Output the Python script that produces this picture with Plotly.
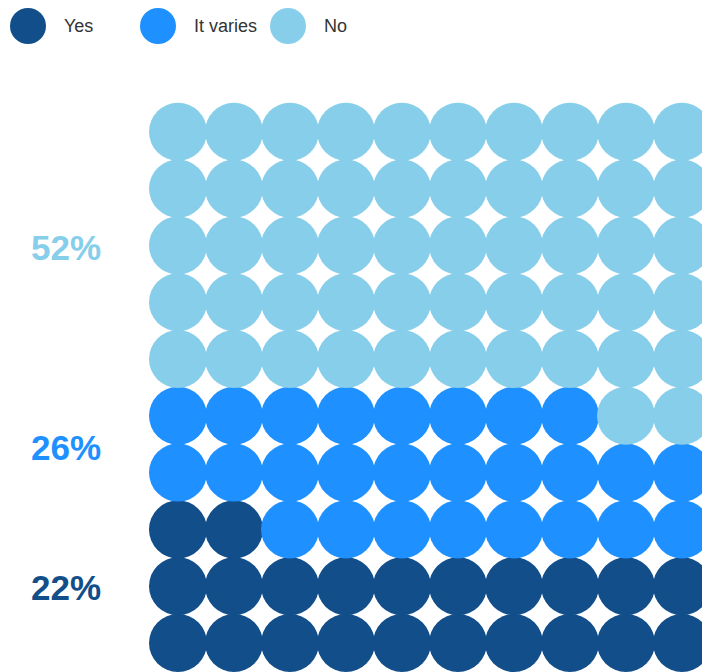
import plotly.graph_objects as go

# Survey answer shares, one dot per percent on a 10 x 10 grid
categories = ["Yes", "It varies", "No"]
counts = [22, 26, 52]
colors = ["#114e8a", "#1e90ff", "#87ceeb"]

n_cols = 10
n_rows = 10

W, H = 702, 672
# pixel geometry of the grid (centre of first column, bottom row, spacing)
x_first_px, x_step_px = 178, 56
y_bottom_px, y_step_px = 643, 56.8

x0 = -x_first_px / x_step_px
x1 = x0 + W / x_step_px
y0 = -(H - y_bottom_px) / y_step_px
y1 = y0 + H / y_step_px

fig = go.Figure()

# fill the grid row by row from the bottom-left corner
idx = 0
for cat, n, col in zip(categories, counts, colors):
    xs, ys = [], []
    for _ in range(n):
        xs.append(idx % n_cols)
        ys.append(idx // n_cols)
        idx += 1
    fig.add_trace(go.Scatter(
        x=xs, y=ys, mode="markers", name=cat,
        marker=dict(size=58, color=col, line=dict(width=0)),
        hoverinfo="name", showlegend=False,
    ))

# percentage labels to the left of the grid
label_rows = [0.97, 3.45, 6.97]
annotations = []
for n, col, ry in zip(counts, colors, label_rows):
    annotations.append(dict(
        x=-2.0, y=ry, xref="x", yref="y", text=f"{n}%",
        showarrow=False, xanchor="center", yanchor="middle",
        font=dict(family="Liberation Sans, Arial, sans-serif", size=35,
                  color=col, weight="bold"),
    ))

# legend row across the top
legend_x_px = [28, 158, 288]
legend_y_px = 26
legend_r = 18
shapes = []
for cat, col, lx in zip(categories, colors, legend_x_px):
    shapes.append(dict(
        type="circle", xref="paper", yref="paper",
        x0=(lx - legend_r) / W, x1=(lx + legend_r) / W,
        y0=1 - (legend_y_px + legend_r) / H, y1=1 - (legend_y_px - legend_r) / H,
        fillcolor=col, line=dict(width=0),
    ))
    annotations.append(dict(
        x=(lx + 34) / W, y=1 - legend_y_px / H, xref="paper", yref="paper",
        text=cat, showarrow=False, xanchor="left", yanchor="middle",
        font=dict(family="Liberation Sans Narrow, Liberation Sans, Arial, sans-serif",
                  size=18, color="#333333"),
    ))

fig.update_layout(
    width=W, height=H,
    margin=dict(l=0, r=0, t=0, b=0),
    paper_bgcolor="white", plot_bgcolor="white",
    xaxis=dict(range=[x0, x1], visible=False, fixedrange=True),
    yaxis=dict(range=[y0, y1], visible=False, fixedrange=True),
    annotations=annotations, shapes=shapes,
    showlegend=False,
)

fig.write_html("out.html")
